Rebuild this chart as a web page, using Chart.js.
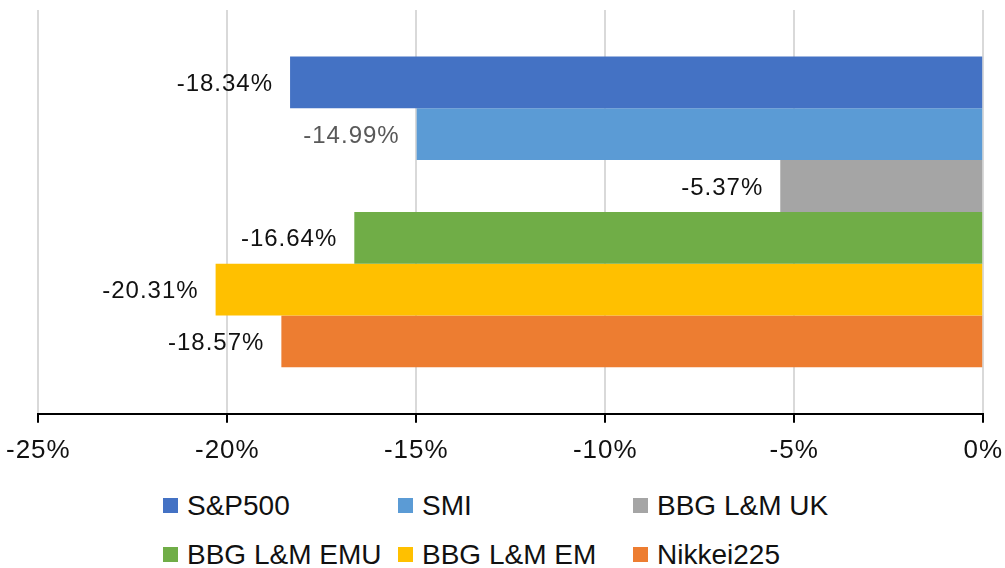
<!DOCTYPE html>
<html>
<head>
<meta charset="utf-8">
<script src="https://cdn.jsdelivr.net/npm/chart.js@4/dist/chart.umd.min.js"></script>
<style>
  html, body { margin: 0; padding: 0; background: #fff; }
  #wrap { position: relative; width: 1005px; height: 568px; overflow: hidden; }
  #chart { position: absolute; left: -6px; top: 0; }
  #legend {
    position: absolute; left: 163px; top: 481px;
    display: grid; grid-template-columns: 235px 235px 235px;
    font: 28px "Liberation Sans", Arial, sans-serif; color: #111;
  }
  #legend .item { height: 49px; line-height: 49px; white-space: nowrap; display: flex; align-items: center; }
  #legend .box { width: 15px; height: 15px; margin-right: 9px; flex: none; }
</style>
</head>
<body>
<div id="wrap">
  <canvas id="chart" width="1021" height="478"></canvas>
  <div id="legend"></div>
</div>
<script>
// series (one bar each, single category)
const seriesNames = ["S&P500", "SMI", "BBG L&M UK", "BBG L&M EMU", "BBG L&M EM", "Nikkei225"];
const seriesValues = [-18.34, -14.99, -5.37, -16.64, -20.31, -18.57];
const seriesColors = ["#4472C4", "#5B9BD5", "#A5A5A5", "#70AD47", "#FFC000", "#ED7D31"];
const labelColors = ["#111", "#595959", "#111", "#111", "#111", "#111"];
const categories = [""];
const xMin = -25, xMax = 0, xStep = 5;

Chart.defaults.font.family = '"Liberation Sans", Arial, sans-serif';
Chart.defaults.font.size = 26;
Chart.defaults.color = "#111";

// slightly wider text, like the original
const spacing = {
  id: "spacing",
  beforeUpdate(c) { c.ctx.letterSpacing = "1px"; },
  beforeDraw(c) { c.ctx.letterSpacing = "1px"; }
};

// value labels just left of each bar end
const valueLabels = {
  id: "valueLabels",
  afterDatasetsDraw(chart) {
    const ctx = chart.ctx;
    ctx.save();
    ctx.font = '24px "Liberation Sans", Arial, sans-serif';
    ctx.letterSpacing = "1px";
    ctx.textAlign = "right";
    ctx.textBaseline = "middle";
    chart.data.datasets.forEach((ds, i) => {
      const meta = chart.getDatasetMeta(i);
      meta.data.forEach((bar, j) => {
        ctx.fillStyle = labelColors[i];
        ctx.fillText(ds.data[j].toFixed(2) + "%", bar.x - 17, bar.y + 2);
      });
    });
    ctx.restore();
  }
};

const datasets = seriesNames.map((name, i) => ({
  label: name,
  data: [seriesValues[i]],
  backgroundColor: seriesColors[i],
  borderWidth: 0
}));

const chart = new Chart(document.getElementById("chart"), {
  type: "bar",
  data: { labels: categories, datasets: datasets },
  options: {
    responsive: false,
    animation: false,
    indexAxis: "y",
    layout: { padding: { top: 10, left: 0, right: 0, bottom: 0 } },
    datasets: { bar: { categoryPercentage: 0.77, barPercentage: 1 } },
    plugins: {
      legend: { display: false },
      tooltip: { enabled: false }
    },
    scales: {
      x: {
        min: xMin,
        max: xMax,
        ticks: {
          stepSize: xStep,
          padding: 12,
          color: "#111",
          callback: v => v + "%"
        },
        grid: {
          color: "#d9d9d9",
          lineWidth: 2,
          tickColor: "#000",
          tickLength: 9,
          tickWidth: 2
        },
        border: { display: true, color: "#000", width: 2 }
      },
      y: { display: false }
    }
  },
  plugins: [spacing, valueLabels]
});

// legend in a 3-column grid
const legend = document.getElementById("legend");
seriesNames.forEach((name, i) => {
  const item = document.createElement("div");
  item.className = "item";
  const box = document.createElement("span");
  box.className = "box";
  box.style.background = seriesColors[i];
  const txt = document.createElement("span");
  txt.textContent = name;
  item.appendChild(box);
  item.appendChild(txt);
  legend.appendChild(item);
});
</script>
</body>
</html>
